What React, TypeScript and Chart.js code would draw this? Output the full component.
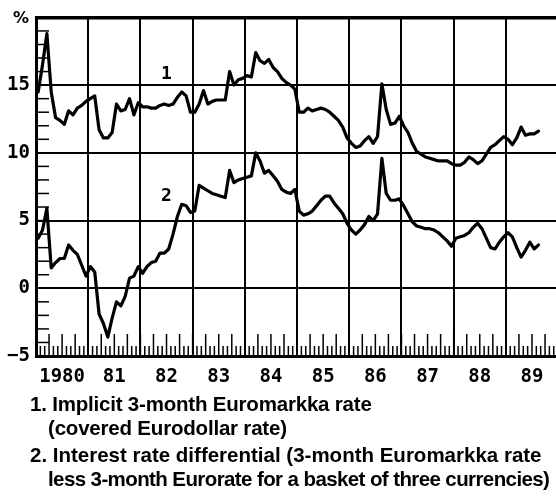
import React, { useEffect, useRef } from "react";
import { Chart, registerables } from "chart.js";

Chart.register(...registerables);

const startYear = 1980;
const yearLabels = ["1980", "81", "82", "83", "84", "85", "86", "87", "88", "89"];
const yTickValues = [-5, 0, 5, 10, 15, 20];
const seriesNames = ["1", "2"];
const seriesLabelPos = [
  { x: 1982.5, y: 15.8 },
  { x: 1982.5, y: 6.8 },
];

// Monthly values, Jan 1980 .. Aug 1989
const series1 = [
  14.5, 16.5, 18.8, 14.5, 12.6, 12.4, 12.1, 13.1, 12.8, 13.3, 13.5, 13.8,
  14.0, 14.2, 11.7, 11.1, 11.1, 11.5, 13.6, 13.1, 13.2, 14.0, 12.8, 13.7,
  13.4, 13.4, 13.3, 13.3, 13.5, 13.6, 13.5, 13.6, 14.1, 14.5, 14.2, 13.0,
  13.0, 13.6, 14.6, 13.6, 13.8, 13.9, 13.9, 13.9, 16.0, 15.0, 15.4, 15.5,
  15.7, 15.6, 17.4, 16.8, 16.6, 16.9, 16.3, 16.0, 15.5, 15.2, 15.0, 14.7,
  13.0, 13.0, 13.3, 13.1, 13.2, 13.3, 13.2, 13.0, 12.7, 12.4, 11.9, 11.1,
  10.7, 10.4, 10.5, 10.9, 11.2, 10.7, 11.2, 15.1, 13.2, 12.1, 12.2, 12.7,
  12.0, 11.5, 10.7, 10.1, 9.9, 9.7, 9.6, 9.5, 9.4, 9.4, 9.4, 9.2,
  9.1, 9.1, 9.3, 9.7, 9.5, 9.2, 9.4, 9.9, 10.4, 10.6, 10.9, 11.2,
  11.0, 10.6, 11.1, 11.9, 11.3, 11.4, 11.4, 11.6,
];

const series2 = [
  3.7, 4.3, 5.9, 1.5, 1.9, 2.2, 2.2, 3.2, 2.8, 2.5, 1.7, 0.9,
  1.6, 1.2, -1.9, -2.6, -3.6, -2.2, -1.0, -1.3, -0.6, 0.75, 0.9, 1.6,
  1.1, 1.6, 1.9, 2.0, 2.6, 2.6, 2.9, 4.0, 5.3, 6.2, 6.1, 5.6,
  5.7, 7.6, 7.4, 7.2, 7.0, 6.9, 6.8, 6.7, 8.7, 7.8, 8.0, 8.1,
  8.2, 8.3, 10.0, 9.4, 8.5, 8.7, 8.3, 7.9, 7.3, 7.1, 7.0, 7.3,
  5.7, 5.4, 5.5, 5.7, 6.1, 6.5, 6.8, 6.8, 6.3, 5.9, 5.5, 4.8,
  4.3, 4.0, 4.3, 4.7, 5.3, 5.0, 5.5, 9.6, 7.0, 6.5, 6.5, 6.6,
  6.1, 5.5, 4.9, 4.6, 4.5, 4.4, 4.4, 4.3, 4.1, 3.8, 3.5, 3.1,
  3.7, 3.8, 3.9, 4.1, 4.5, 4.8, 4.4, 3.7, 3.0, 2.9, 3.4, 3.8,
  4.1, 3.8, 3.0, 2.3, 2.8, 3.4, 2.9, 3.2,
];

const notes = [
  { text: "1. Implicit 3-month Euromarkka rate", indent: false, spacing: -0.2 },
  { text: "(covered Eurodollar rate)", indent: true, spacing: -0.2 },
  { text: "2. Interest rate differential (3-month Euromarkka rate", indent: false, spacing: 0 },
  { text: "less 3-month Eurorate for a basket of three currencies)", indent: true, spacing: -0.6 },
];

const W = 556;
const H = 499;
const tickFont = "DejaVu Sans Mono";

const toPoints = (arr: number[]) =>
  arr.map((v, i) => ({ x: startYear + (i + 0.5) / 12, y: v }));

const decorPlugin = {
  id: "decor",
  beforeDatasetsDraw(chart: any) {
    const { ctx, chartArea, scales } = chart;
    const xs = scales.x;
    const ys = scales.y;
    ctx.save();
    ctx.strokeStyle = "#000";
    ctx.lineWidth = 1.5;
    const months = yearLabels.length * 12;
    for (let m = 1; m < months; m++) {
      const x = xs.getPixelForValue(startYear + m / 12);
      if (x > chartArea.right) break;
      const len = m % 3 === 0 ? 22 : 10;
      ctx.beginPath();
      ctx.moveTo(x, chartArea.bottom);
      ctx.lineTo(x, chartArea.bottom - len);
      ctx.stroke();
    }
    for (let v = yTickValues[0] + 1; v < yTickValues[yTickValues.length - 1]; v++) {
      const y = ys.getPixelForValue(v);
      ctx.beginPath();
      ctx.moveTo(chartArea.left, y);
      ctx.lineTo(chartArea.left + 13, y);
      ctx.stroke();
    }
    ctx.restore();
  },
  afterDraw(chart: any) {
    const { ctx, chartArea, scales } = chart;
    ctx.save();
    ctx.fillStyle = "#000";
    ctx.font = `bold 18px "${tickFont}"`;
    ctx.textAlign = "center";
    ctx.textBaseline = "middle";
    seriesNames.forEach((n, i) => {
      const p = seriesLabelPos[i];
      ctx.fillText(n, scales.x.getPixelForValue(p.x), scales.y.getPixelForValue(p.y));
    });
    ctx.font = `bold 16px "DejaVu Sans"`;
    ctx.fillText("%", chartArea.left - 15, chartArea.top + 1);
    ctx.restore();
  },
};

export default function App() {
  const ref = useRef<HTMLCanvasElement | null>(null);

  useEffect(() => {
    document.body.style.margin = "0";
    const canvas = ref.current;
    if (!canvas) return;
    const chart = new Chart(canvas, {
      type: "line",
      data: {
        datasets: [series1, series2].map((s, i) => ({
          label: seriesNames[i],
          data: toPoints(s),
          borderColor: "#000",
          borderWidth: 3.2,
          pointRadius: 0,
          tension: 0,
          borderJoinStyle: "round" as const,
          borderCapStyle: "round" as const,
          fill: false,
        })),
      },
      options: {
        responsive: false,
        animation: false,
        events: [],
        layout: { padding: { top: 14.5, left: 0, right: 0, bottom: 0 } },
        plugins: { legend: { display: false }, tooltip: { enabled: false } },
        scales: {
          x: {
            type: "linear",
            min: startYear,
            max: startYear + 9.96,
            afterBuildTicks: (scale: any) => {
              const t: { value: number }[] = [];
              yearLabels.forEach((_, k) => {
                if (k > 0) t.push({ value: startYear + k });
                t.push({ value: startYear + k + 0.5 });
              });
              scale.ticks = t;
            },
            afterFit: (scale: any) => {
              scale.height = 143;
            },
            grid: {
              color: (c: any) =>
                c.tick && Number.isInteger(c.tick.value) ? "#000" : "rgba(0,0,0,0)",
              lineWidth: 2,
              drawTicks: false,
            },
            border: { display: true, color: "#000", width: 3 },
            ticks: {
              autoSkip: false,
              maxRotation: 0,
              padding: 10,
              color: "#000",
              font: { family: tickFont, size: 19, weight: "bold" },
              callback: (v: any) => {
                const n = Number(v);
                if (Number.isInteger(n)) return "";
                return yearLabels[Math.floor(n) - startYear] ?? "";
              },
            },
          },
          y: {
            min: yTickValues[0],
            max: yTickValues[yTickValues.length - 1],
            afterBuildTicks: (scale: any) => {
              scale.ticks = yTickValues.map((v) => ({ value: v }));
            },
            afterFit: (scale: any) => {
              scale.width = 36;
            },
            grid: {
              color: "#000",
              lineWidth: (c: any) =>
                c.tick && c.tick.value === yTickValues[yTickValues.length - 1] ? 3.5 : 2,
              drawTicks: false,
            },
            border: { display: true, color: "#000", width: 3 },
            ticks: {
              padding: 6,
              color: "#000",
              font: { family: tickFont, size: 19, weight: "bold" },
              callback: (v: any) => {
                const n = Number(v);
                if (n === yTickValues[yTickValues.length - 1]) return "";
                return n < 0 ? "\u2212" + Math.abs(n) : String(n);
              },
            },
          },
        },
      },
      plugins: [decorPlugin],
    });
    return () => chart.destroy();
  }, []);

  const lineTops = [392, 416, 443, 467];

  return (
    <div style={{ position: "absolute", left: 0, top: 0, width: W, height: H, background: "#fff" }}>
      <canvas ref={ref} width={W} height={H} style={{ display: "block", width: W, height: H }} />
      {notes.map((n, i) => (
        <div
          key={i}
          style={{
            position: "absolute",
            left: n.indent ? 48 : 30,
            top: lineTops[i],
            fontFamily: '"Liberation Sans", Arial, sans-serif',
            fontWeight: "bold",
            fontSize: 20.5,
            lineHeight: "24px",
            letterSpacing: `${n.spacing}px`,
            whiteSpace: "nowrap",
            color: "#000",
          }}
        >
          {n.text}
        </div>
      ))}
    </div>
  );
}
